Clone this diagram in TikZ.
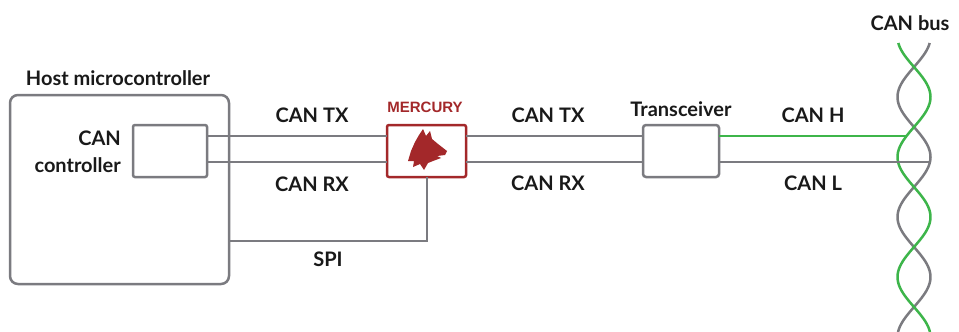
\documentclass[tikz,border=0pt]{standalone}
\usepackage{fontspec}
\setmainfont{Lato}
\newfontfamily\mercfont{Liberation Sans}
\definecolor{wire}{HTML}{7B7B80}
\definecolor{cangreen}{HTML}{3DB54A}
\definecolor{mred}{HTML}{A3282A}
\tikzset{
  lbl/.style={font=\bfseries\fontsize{20}{27}\selectfont, inner sep=0pt, text=black!90},
  box/.style={draw=wire, line width=2.5pt, fill=white, inner sep=0pt},
  wireline/.style={draw=wire, line width=2.5pt},
  greenline/.style={draw=cangreen, line width=2.5pt},
}
\begin{document}
\begin{tikzpicture}[x={(1pt,0)}, y={(0,-1pt)}]
\useasboundingbox[fill=white] (0,0) rectangle (959,332);

% boxes
\node[box, rounded corners=8pt, minimum width=219pt, minimum height=189pt] (host) at (119.5,189.5) {};
\node[box, rounded corners=2pt, minimum width=74pt, minimum height=52pt] (ctrl) at (170,151) {};
\node[draw=mred, line width=2.5pt, rounded corners=2pt, fill=white, inner sep=0pt, minimum width=79pt, minimum height=52pt] (merc) at (426.5,151) {};
\node[box, rounded corners=3pt, minimum width=76pt, minimum height=52pt] (trx) at (681,151) {};

% wolf head
\fill[mred] (408,161) -- (411,151) -- (415,142) -- (419,135) -- (423,129) -- (426,136) -- (430,131) -- (432,139) -- (438,144) -- (447,151) -- (445,155) -- (437,156) -- (441,158) -- (433,161) -- (428,163) -- (424,170) -- (420,164) -- (413,167) -- (414,161) -- cycle;

% anchor coordinates
\coordinate (ctx) at (207,136);
\coordinate (crx) at (207,162);
\coordinate (mtxl) at (387,136);
\coordinate (mrxl) at (387,162);
\coordinate (mtxr) at (466,136);
\coordinate (mrxr) at (466,162);
\coordinate (ttxl) at (643,136);
\coordinate (trxl) at (643,162);
\coordinate (thr) at (719,136);
\coordinate (tlr) at (719,162);
\coordinate (hend) at (906,136);
\coordinate (lend) at (929,162);
\coordinate (spitop) at (427,177);
\coordinate (spicorner) at (427,241);
\coordinate (spihost) at (229,241);

% twisted pair
\draw[wire, line width=2.5pt] plot[domain=43:332, samples=120, smooth] ({914+16.5*cos(3*(\x-37))}, \x);
\draw[cangreen, line width=2.5pt] plot[domain=43:332, samples=120, smooth] ({914-16.5*cos(3*(\x-37))}, \x);

% wires
\draw[wireline] (ctx) -- (mtxl);
\draw[wireline] (crx) -- (mrxl);
\draw[wireline] (mtxr) -- (ttxl);
\draw[wireline] (mrxr) -- (trxl);
\draw[greenline] (thr) -- (hend);
\draw[wireline] (tlr) -- (lend);
\draw[wireline] (spitop) -- (spicorner) -- (spihost);

% labels
\node[lbl] (hostlbl) at (118,78) {Host microcontroller};
\node[lbl, align=right, anchor=east] (ctrllbl) at (121,152) {CAN\\controller};
\node[lbl] (tx1) at (312,115) {CAN TX};
\node[lbl] (rx1) at (312,184) {CAN RX};
\node[lbl] (spi) at (328,259) {SPI};
\node[lbl] (tx2) at (548,115) {CAN TX};
\node[lbl] (rx2) at (548,183) {CAN RX};
\node[lbl] (trxlbl) at (681,109) {Transceiver};
\node[lbl] (canh) at (813,115) {CAN H};
\node[lbl] (canl) at (813,183) {CAN L};
\node[lbl] (bus) at (910,23) {CAN bus};
\node[inner sep=0pt, text=mred, font=\mercfont\bfseries\fontsize{15}{18}\selectfont] (merclbl) at (425,107) {MERCURY};
\end{tikzpicture}
\end{document}
